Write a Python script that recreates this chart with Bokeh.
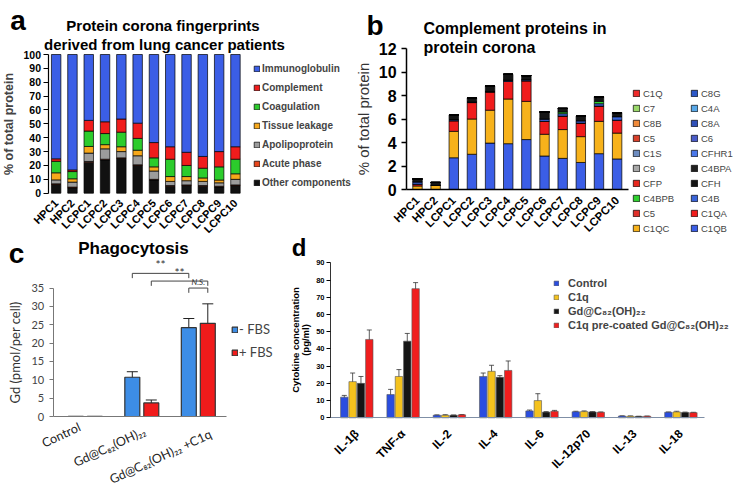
import math
from bokeh.plotting import figure
from bokeh.models import (Range1d, Legend, LegendItem, Label, Whisker,
                          TeeHead, ColumnDataSource, FixedTicker)
from bokeh.layouts import row, column
from bokeh.embed import file_html
from bokeh.resources import INLINE

ARIAL = "Liberation Sans"
CALIBRI = "Lato"

# ---------------- data ----------------
samples = ["HPC1", "HPC2", "LCPC1", "LCPC2", "LCPC3", "LCPC4", "LCPC5",
           "LCPC6", "LCPC7", "LCPC8", "LCPC9", "LCPC10"]

# panel a: % of total protein (stacked, bottom -> top)
a_other = [6.3, 3.9, 22.4, 24.0, 25.0, 20.0, 9.5, 5.0, 5.5, 5.0, 4.5, 5.5]
a_acute = [0.5, 0.5, 0.5, 0.5, 0.5, 0.5, 0.5, 0.5, 0.5, 0.5, 0.5, 0.5]
a_apo = [2.8, 3.6, 6.0, 7.5, 4.5, 6.5, 6.0, 3.0, 3.0, 3.0, 2.5, 4.0]
a_tissue = [5.1, 2.4, 4.8, 3.0, 3.5, 4.0, 3.0, 3.5, 3.0, 2.5, 2.0, 4.0]
a_coag = [8.3, 5.2, 11.1, 8.0, 10.5, 8.5, 6.5, 12.5, 8.0, 7.0, 9.5, 10.5]
a_compl = [1.8, 1.2, 7.7, 8.5, 9.5, 11.0, 11.0, 9.0, 9.5, 8.5, 11.0, 9.0]
a_immuno = [75.2, 83.2, 47.5, 48.5, 46.5, 49.5, 63.5, 66.5, 70.5, 73.5, 70.0, 66.5]
a_classes = ["Other components", "Acute phase", "Apolipoprotein", "Tissue leakage",
             "Coagulation", "Complement", "Immunoglobulin"]
a_yticks = [0, 10, 20, 30, 40, 50, 60, 70, 80, 90, 100]

# panel b: complement proteins, % of total protein
b_C1QB = [0.0, 0.0, 2.7, 3.0, 3.95, 3.9, 4.25, 2.85, 2.65, 2.3, 3.05, 2.6]
b_C1QC = [0.3, 0.35, 2.25, 3.0, 2.8, 3.8, 3.25, 1.85, 2.45, 2.2, 2.75, 2.2]
b_C1QA = [0.15, 0.0, 0.9, 1.4, 1.55, 1.5, 1.75, 1.1, 1.15, 1.15, 1.3, 1.1]
b_C4B = [0.2, 0.0, 0.1, 0.05, 0.05, 0.1, 0.1, 0.2, 0.2, 0.2, 0.2, 0.3]
b_C4BPB = [0.0, 0.0, 0.0, 0.0, 0.0, 0.0, 0.0, 0.0, 0.15, 0.0, 0.2, 0.0]
b_CFH = [0.25, 0.25, 0.4, 0.35, 0.45, 0.5, 0.35, 0.6, 0.3, 0.4, 0.4, 0.35]
b_minor = [0.0] * 12
b_yticks = [0, 2, 4, 6, 8, 10, 12]
# stack order bottom -> top: (key, legend label, colour)
b_components = [
    ("C1QB", "C1QB", "#3b5ee6"), ("C1QC", "C1QC", "#f7b21b"), ("C1QA", "C1QA", "#f01c1c"),
    ("C5b", "C5", "#e0302a"), ("C4B", "C4B", "#3a64d8"), ("C4BPB", "C4BPB", "#2fd02f"),
    ("CFH", "CFH", "#151515"), ("CFP", "CFP", "#e8281e"), ("C4BPA", "C4BPA", "#202020"),
    ("C9", "C9", "#a8a8a8"), ("CFHR1", "CFHR1", "#4a78ea"), ("C1S", "C1S", "#6d8cc0"),
    ("C6", "C6", "#4a5cc8"), ("C5a", "C5", "#d8402a"), ("C8A", "C8A", "#3050b8"),
    ("C8B", "C8B", "#f08a3a"), ("C4A", "C4A", "#58a8e8"), ("C7", "C7", "#9ad86a"),
    ("C8G", "C8G", "#2c58c8"), ("C1Q", "C1Q", "#ee2a2a"),
]
b_main = {"C1QB": b_C1QB, "C1QC": b_C1QC, "C1QA": b_C1QA,
          "C4B": b_C4B, "C4BPB": b_C4BPB, "CFH": b_CFH}
b_legend_col1 = ["C1Q", "C7", "C8B", "C5a", "C1S", "C9", "CFP", "C4BPB", "C5b", "C1QC"]
b_legend_col2 = ["C8G", "C4A", "C8A", "C6", "CFHR1", "C4BPA", "CFH", "C4B", "C1QA", "C1QB"]

# panel c: phagocytosis
c_groups = ["Control", "Gd@C\u2088\u2082(OH)\u2082\u2082", "Gd@C\u2088\u2082(OH)\u2082\u2082 +C1q"]
c_minus = [0.05, 10.7, 24.2]
c_minus_err = [0.0, 1.5, 2.5]
c_plus = [0.05, 3.7, 25.4]
c_plus_err = [0.0, 0.8, 5.3]
c_yticks = [0, 5, 10, 15, 20, 25, 30, 35]
# significance brackets: (group a, side a, group b, side b, height, label)
c_sig = [(1, -1, 2, -1, 39.0, "**"), (1, 1, 2, 1, 36.9, "**"), (2, -1, 2, 1, 35.0, "N.S.")]

# panel d: cytokines
d_cyto = ["IL-1\u03b2", "TNF-\u03b1", "IL-2", "IL-4", "IL-6", "IL-12p70", "IL-13", "IL-18"]
d_control = [12.0, 13.5, 1.5, 24.0, 4.0, 3.5, 1.0, 3.2]
d_control_err = [1.0, 3.0, 0.2, 2.0, 0.5, 0.3, 0.1, 0.2]
d_c1q = [21.0, 24.0, 1.5, 27.0, 10.0, 3.6, 0.9, 3.4]
d_c1q_err = [5.0, 4.0, 0.3, 3.5, 4.0, 0.4, 0.2, 0.4]
d_gd = [20.0, 44.5, 1.5, 23.5, 3.3, 3.4, 0.8, 3.1]
d_gd_err = [4.0, 4.5, 0.1, 1.0, 0.3, 0.2, 0.1, 0.2]
d_pre = [45.5, 75.0, 1.7, 27.5, 3.8, 3.2, 0.9, 3.0]
d_pre_err = [5.5, 3.5, 0.2, 5.5, 0.5, 0.2, 0.1, 0.2]
d_series = ["Control", "C1q", "Gd@C\u2088\u2082(OH)\u2082\u2082",
            "C1q pre-coated Gd@C\u2088\u2082(OH)\u2082\u2082"]
d_yticks = [0, 10, 20, 30, 40, 50, 60, 70, 80, 90]


# ---------------- helpers ----------------
def make_fig(w, h, ux, uy, x0_px, y0_px):
    """Figure whose frame fills it; data x=0 sits x0_px from the left, y=0 y0_px from bottom."""
    p = figure(x_range=Range1d(-x0_px / ux, (w - x0_px) / ux),
               y_range=Range1d(-y0_px / uy, (h - y0_px) / uy),
               width=w, height=h, min_border_left=0, min_border_right=0,
               min_border_top=0, min_border_bottom=0,
               output_backend="svg", toolbar_location=None)
    p.title.visible = False
    p.xgrid.grid_line_color = None
    p.ygrid.grid_line_color = None
    p.outline_line_color = None
    p.border_fill_color = "white"
    p.background_fill_color = "white"
    p.xaxis.fixed_location = 0
    p.yaxis.fixed_location = 0
    return p


def add_text(p, fx, fy, x, y, text, size, bold=True, align="left", font=ARIAL,
             color="black", angle=0.0, baseline="alphabetic"):
    p.add_layout(Label(x=x - fx, y=fy - y, x_units="screen", y_units="screen", text=text,
                       text_font=font, text_font_size=f"{size}px",
                       text_font_style="bold" if bold else "normal",
                       text_align=align, text_baseline=baseline, text_color=color,
                       angle=angle))


def style_legend(leg, font, size, bold, gh, gw, lh, sp, standoff):
    leg.border_line_color = None
    leg.background_fill_alpha = 0
    leg.padding = 0
    leg.margin = 0
    leg.spacing = sp
    leg.label_height = lh
    leg.glyph_height = gh
    leg.glyph_width = gw
    leg.label_standoff = standoff
    leg.label_text_font = font
    leg.label_text_font_size = f"{size}px"
    leg.label_text_font_style = "bold" if bold else "normal"


def style_yaxis(ax, font, size, bold, tick_out, lw, standoff, color="black"):
    ax.major_label_text_font = font
    ax.major_label_text_font_size = f"{size}px"
    ax.major_label_text_font_style = "bold" if bold else "normal"
    ax.major_label_text_color = color
    ax.major_label_standoff = standoff
    ax.major_tick_out = tick_out
    ax.major_tick_in = 0
    ax.minor_tick_line_color = None
    ax.axis_line_width = lw
    ax.major_tick_line_width = lw


def style_xaxis(ax, font, size, bold, angle, standoff, color="black"):
    ax.major_tick_line_color = None
    ax.minor_tick_line_color = None
    ax.major_label_orientation = angle
    ax.major_label_text_font = font
    ax.major_label_text_font_size = f"{size}px"
    ax.major_label_text_font_style = "bold" if bold else "normal"
    ax.major_label_text_color = color
    ax.major_label_standoff = standoff


# ---------------- panel a ----------------
# figure: page x 0..356, y 0..234 ; y axis at x 47.5, value 0 at y 192.7
pa = make_fig(356, 234, 16.3, 1.387, 47.5, 41.3)
a_keys = ["other", "acute", "apo", "tissue", "coag", "compl", "immuno"]
a_colors = ["#111111", "#e8461c", "#9c9c9c", "#f7a81b", "#2ccc2c", "#f01c1c", "#3b5ee6"]
a_x = [i + 0.5 for i in range(len(samples))]
src_a = ColumnDataSource(dict(x=a_x, other=a_other, acute=a_acute, apo=a_apo,
                              tissue=a_tissue, coag=a_coag, compl=a_compl, immuno=a_immuno))
ra = pa.vbar_stack(a_keys, x="x", width=0.58, color=a_colors, line_color="black",
                   line_width=0.7, source=src_a)
leg_a = Legend(items=[LegendItem(label=lab, renderers=[r])
                      for lab, r in reversed(list(zip(a_classes, ra)))],
               location=(253, 44))
style_legend(leg_a, ARIAL, 10, True, 7, 7, 15, 4, 2)
pa.add_layout(leg_a)
ya = pa.yaxis[0]
ya.ticker = FixedTicker(ticks=a_yticks)
ya.bounds = (0, 100)
ya.axis_label = "% of total protein"
ya.axis_label_text_font = ARIAL
ya.axis_label_text_font_style = "bold"
ya.axis_label_text_font_size = "12.5px"
ya.axis_label_standoff = 5
style_yaxis(ya, ARIAL, 10.5, True, 5, 1.2, 2)
xa = pa.xaxis[0]
xa.ticker = FixedTicker(ticks=a_x)
xa.major_label_overrides = {x: s for x, s in zip(a_x, samples)}
xa.axis_line_color = None
style_xaxis(xa, ARIAL, 11, True, math.pi / 4, 2)
add_text(pa, 0, 234, 17.5, 20, "a", 28, align="center")
add_text(pa, 0, 234, 162.5, 24.5, "Protein corona fingerprints", 15, align="center")
add_text(pa, 0, 234, 164, 43.5, "derived from lung cancer patients", 15, align="center")

# ---------------- panel b ----------------
# figure: page x 356..736, y 0..234 ; value 0 at x 407.9 / y 189
pb = make_fig(380, 234, 18.15, 11.75, 51.9, 45)
b_x = [i + 0.5 for i in range(len(samples))]
b_data = {"x": b_x}
for key, lab, col in b_components:
    b_data[key] = b_main.get(key, b_minor)
src_b = ColumnDataSource(b_data)
rb = pb.vbar_stack([c[0] for c in b_components], x="x", width=0.52,
                   color=[c[2] for c in b_components], line_color="black",
                   line_width=0.7, source=src_b)
rb_map = {c[0]: (c[1], r) for c, r in zip(b_components, rb)}
leg_b = Legend(items=[LegendItem(label=rb_map[k][0], renderers=[rb_map[k][1]])
                      for k in b_legend_col1 + b_legend_col2],
               location=(276, 0), ncols=2)
style_legend(leg_b, ARIAL, 9.5, False, 8, 8, 12, 3, 3)
leg_b.label_width = 44
pb.add_layout(leg_b)
yb = pb.yaxis[0]
yb.fixed_location = -0.1
yb.ticker = FixedTicker(ticks=b_yticks)
yb.bounds = (0, 12)
yb.axis_label = "% of total protein"
yb.axis_label_text_font = ARIAL
yb.axis_label_text_font_style = "normal"
yb.axis_label_text_font_size = "15px"
yb.axis_label_text_color = "#333333"
yb.axis_label_standoff = 4
style_yaxis(yb, ARIAL, 16, True, 5, 1.5, 5)
xb = pb.xaxis[0]
xb.ticker = FixedTicker(ticks=b_x)
xb.major_label_overrides = {x: s for x, s in zip(b_x, samples)}
xb.bounds = (-0.1, 12.1)
xb.axis_line_width = 1.5
style_xaxis(xb, ARIAL, 11.5, True, math.pi / 4, 3)
add_text(pb, 356, 234, 374.5, 25, "b", 28, align="center")
add_text(pb, 356, 234, 423, 27.5, "Complement proteins in", 16)
add_text(pb, 356, 234, 423, 46.5, "protein corona", 16)

# ---------------- panel c ----------------
# figure: page x 0..290, y 234..502 ; value 0 at y 416, group 0 centre at x 84.8
pc = make_fig(290, 268, 56.5, 3.67, 56.55, 86)
c_off = 0.168
c_xm = [i + 0.5 - c_off for i in range(len(c_groups))]
c_xp = [i + 0.5 + c_off for i in range(len(c_groups))]
r_cm = pc.vbar(x=c_xm, top=c_minus, width=0.265, fill_color="#3d8de6",
               line_color="#333333", line_width=1.2)
r_cp = pc.vbar(x=c_xp, top=c_plus, width=0.265, fill_color="#f01b1b",
               line_color="#333333", line_width=1.2)
for xs, vals, errs in ((c_xm, c_minus, c_minus_err), (c_xp, c_plus, c_plus_err)):
    sel = [i for i in range(len(vals)) if errs[i] > 0]
    ws = ColumnDataSource(dict(base=[xs[i] for i in sel],
                               upper=[vals[i] + errs[i] for i in sel],
                               lower=[vals[i] - errs[i] for i in sel]))
    pc.add_layout(Whisker(source=ws, base="base", upper="upper", lower="lower",
                          line_color="#222222", line_width=1,
                          upper_head=TeeHead(size=11, line_color="#222222", line_width=1),
                          lower_head=TeeHead(size=11, line_color="#222222", line_width=1)))
for ga, sa, gb, sb, hgt, lab in c_sig:
    x0 = ga + 0.5 + sa * c_off
    x1 = gb + 0.5 + sb * c_off
    drop = 1.3
    pc.line(x=[x0, x0, x1, x1], y=[hgt - drop, hgt, hgt, hgt - drop],
            line_color="#444444", line_width=1)
    pc.add_layout(Label(x=(x0 + x1) / 2, y=hgt + 0.3, text=lab, text_align="center",
                        text_baseline="bottom", text_font=CALIBRI,
                        text_font_size="12px" if lab == "**" else "8px",
                        text_font_style="normal" if lab == "**" else "italic",
                        text_color="#333333"))
leg_c = Legend(items=[LegendItem(label="- FBS", renderers=[r_cm]),
                      LegendItem(label="+ FBS", renderers=[r_cp])],
               location=(231, 142))
style_legend(leg_c, CALIBRI, 13, False, 7, 7, 16, 7, 1)
pc.add_layout(leg_c)
yc = pc.yaxis[0]
yc.fixed_location = -0.068
yc.ticker = FixedTicker(ticks=c_yticks)
yc.bounds = (0, 35)
yc.axis_label = "Gd (pmol/per cell)"
yc.axis_label_text_font = CALIBRI
yc.axis_label_text_font_style = "normal"
yc.axis_label_text_font_size = "13px"
yc.axis_label_text_color = "#333333"
yc.axis_label_standoff = 6
style_yaxis(yc, CALIBRI, 11, False, 4, 1, 5, color="#444444")
yc.axis_line_color = "#777777"
yc.major_tick_line_color = "#777777"
xc = pc.xaxis[0]
xc.ticker = FixedTicker(ticks=[])
xc.bounds = (-0.068, 3.0)
xc.axis_line_color = "#777777"
xc.minor_tick_line_color = None
# category labels, Excel-style placement (top-right anchor of each rotated label, page px)
c_label_anchor = [(76, 419), (141, 423), (207, 426)]
for g, (lx, ly) in zip(c_groups, c_label_anchor):
    add_text(pc, 0, 502, lx, ly, g, 12.5, bold=False, align="right", font=CALIBRI,
             color="#222222", angle=0.436, baseline="top")
add_text(pc, 0, 502, 16, 253, "c", 28, align="center")
add_text(pc, 0, 502, 133, 248, "Phagocytosis", 17, align="center")

# ---------------- panel d ----------------
# figure: page x 290..736, y 234..502 ; value 0 at y 417.3, category 0 starts x 333.15
pd = make_fig(446, 268, 46.3, 1.722, 43.15, 84.7)
d_vals = [d_control, d_c1q, d_gd, d_pre]
d_errs = [d_control_err, d_c1q_err, d_gd_err, d_pre_err]
d_colors = ["#2a4de0", "#f4c21d", "#151515", "#f01e1e"]
d_offsets = [-0.27, -0.09, 0.09, 0.27]
d_rend = []
for vals, errs, col, off in zip(d_vals, d_errs, d_colors, d_offsets):
    xs = [i + 0.5 + off for i in range(len(d_cyto))]
    r = pd.vbar(x=xs, top=vals, width=0.16, fill_color=col, line_color="#555555",
                line_width=0.6)
    d_rend.append(r)
    ws = ColumnDataSource(dict(base=xs, upper=[v + e for v, e in zip(vals, errs)],
                               lower=[v - e for v, e in zip(vals, errs)]))
    pd.add_layout(Whisker(source=ws, base="base", upper="upper", lower="lower",
                          line_color="#333333", line_width=0.8,
                          upper_head=TeeHead(size=5, line_color="#333333", line_width=0.8),
                          lower_head=TeeHead(size=5, line_color="#333333", line_width=0.8)))
leg_d = Legend(items=[LegendItem(label=s, renderers=[r]) for s, r in zip(d_series, d_rend)],
               location=(263, 171))
style_legend(leg_d, ARIAL, 11, True, 6, 6, 12, 2, 9)
pd.add_layout(leg_d)
yd = pd.yaxis[0]
yd.fixed_location = -0.068
yd.ticker = FixedTicker(ticks=d_yticks)
yd.bounds = (0, 90)
style_yaxis(yd, ARIAL, 7.5, True, 4, 1, 2)
yd.axis_line_color = "#333333"
xd = pd.xaxis[0]
xd.ticker = FixedTicker(ticks=[i + 0.5 for i in range(len(d_cyto))])
xd.major_label_overrides = {i + 0.5: c for i, c in enumerate(d_cyto)}
xd.bounds = (-0.068, 8.0)
xd.axis_line_color = "#7f8fa6"
style_xaxis(xd, ARIAL, 12, True, math.pi / 4, 8)
add_text(pd, 290, 502, 295, 339.5, "Cytokine concentration", 9.5, align="center",
         angle=math.pi / 2, baseline="middle")
add_text(pd, 290, 502, 304.5, 339.5, "(pg/ml)", 9.5, align="center",
         angle=math.pi / 2, baseline="middle")
add_text(pd, 290, 502, 298.5, 247, "d", 24, align="center")

layout = column(row(pa, pb), row(pc, pd))
open("out.html", "w").write(file_html(layout, INLINE))
